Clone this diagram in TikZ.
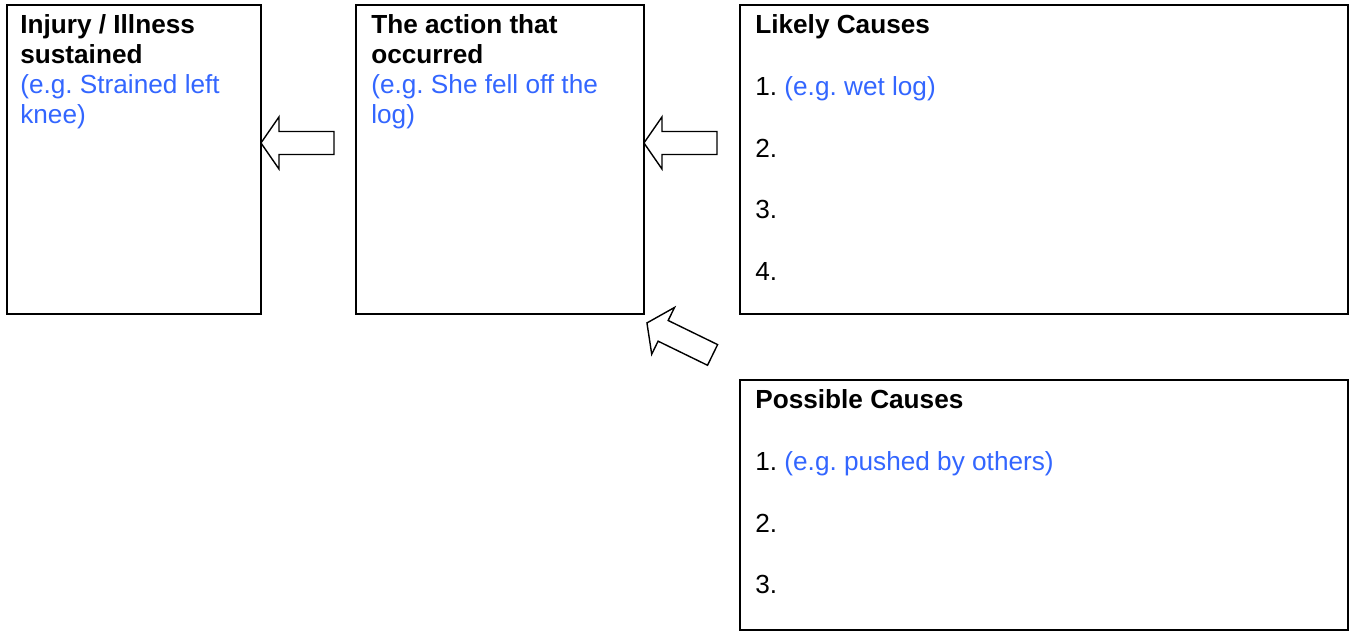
\documentclass[tikz,border=0pt]{standalone}
\usepackage{fontspec}
\setmainfont{Liberation Sans}
\usetikzlibrary{positioning}
\definecolor{egblue}{HTML}{3366FF}
\newcommand{\eg}[1]{\textcolor{egblue}{#1}}
\frenchspacing
\tikzset{
  box/.style={draw, line width=1pt, anchor=north west, inner sep=0pt, outer sep=0pt},
  boxtext/.style={anchor=north west, align=left, inner sep=0pt,
    font=\fontsize{14.9}{17.2}\selectfont},
  blockarrow/.pic={
    \draw[line width=0.8pt, line join=miter, fill=white]
      (0,0)--(18,-26)--(18,-11.5)--(73,-11.5)--(73,11.5)--(18,11.5)--(18,26)--cycle;
  }
}
\begin{document}
\begin{tikzpicture}[x=0.02cm,y=-0.02cm]
  \useasboundingbox (0,0) rectangle (1354,631);

  % the four boxes
  \node[box, minimum width=5.08cm, minimum height=6.18cm] (injury) at (7,5) {};
  \node[box, minimum width=5.76cm, minimum height=6.18cm] (action) at (356,5) {};
  \node[box, minimum width=12.16cm, minimum height=6.18cm] (likely) at (740,5) {};
  \node[box, minimum width=12.16cm, minimum height=5.0cm] (possible) at (740,380) {};

  % texts
  \node[boxtext] (injurytxt) at ([xshift=0.26cm, yshift=-0.18cm]injury.north west)
    {\textbf{Injury / Illness}\\ \textbf{sustained}\\ \eg{(e.g. Strained left}\\ \eg{knee)}};
  \node[boxtext] (actiontxt) at ([xshift=0.3cm, yshift=-0.18cm]action.north west)
    {\textbf{The action that}\\ \textbf{occurred}\\ \eg{(e.g. She fell off the}\\ \eg{log)}};
  \node[boxtext] (likelytxt) at ([xshift=0.3cm, yshift=-0.18cm]likely.north west)
    {\textbf{Likely Causes}\\[18pt] 1. \eg{(e.g. wet log)}\\[18pt] 2.\\[18pt] 3.\\[18pt] 4.};
  \node[boxtext] (possibletxt) at ([xshift=0.3cm, yshift=-0.18cm]possible.north west)
    {\textbf{Possible Causes}\\[18pt] 1. \eg{(e.g. pushed by others)}\\[18pt] 2.\\[18pt] 3.};

  % block arrows
  \pic (arrowone) at ([yshift=-2.76cm]injury.north east) {blockarrow};
  \pic (arrowtwo) at ([yshift=-2.76cm]action.north east) {blockarrow};
  \pic[rotate=-26] (arrowthree) at ([xshift=0.06cm, yshift=-0.18cm]action.south east) {blockarrow};
\end{tikzpicture}
\end{document}
